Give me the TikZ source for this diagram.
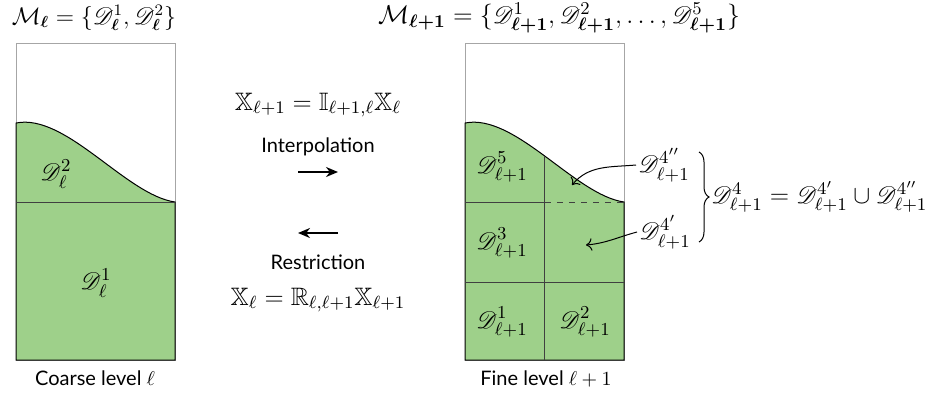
\RequirePackage{fix-cm}
\documentclass[tikz,border=0pt]{standalone}
\usepackage{fontspec}
\setmainfont{Lato}
\usepackage{amssymb}
\usepackage{mathrsfs}
\usepackage{bm}
\usetikzlibrary{positioning, arrows.meta, decorations.pathreplacing}

\definecolor{cellgreen}{RGB}{158,208,138}

\begin{document}
\begin{tikzpicture}[
        x=0.5pt, y=-0.5pt,
        frame/.style={draw=gray!70, line width=0.5pt},
        region/.style={fill=cellgreen, draw=black, line width=0.5pt},
        split/.style={draw=black!75, line width=0.5pt},
        lbl/.style={inner sep=1pt, font=\fontsize{13}{15}\selectfont},
        arrow/.style={-{Stealth[length=6pt, width=5pt]}, line width=1pt},
        pointer/.style={-{To[length=3pt]}, line width=0.5pt},
        brace/.style={decorate, decoration={brace, amplitude=5pt}, line width=0.5pt},
        opeq/.style={font=\fontsize{12.6}{15}\selectfont}
    ]
    \useasboundingbox (0,0) rectangle (936,392);

    % coarse level
    \draw[frame] (16,43) rectangle (175,360);
    \path[region] (16,360) -- (16,123) .. controls (66,113) and (126,195) .. (175,202) -- (175,360) -- cycle;
    \draw[split] (16,202) -- (175,202);

    \node[lbl] (cD2) at (56,174) {$\mathscr{D}_\ell^2$};
    \node[lbl] (cD1) at (96,283) {$\mathscr{D}_\ell^1$};

    \node (cHead) at (94,18) {\large $\mathcal{M}_{\bm{\ell}} = \{\mathscr{D}_{\bm{\ell}}^1, \mathscr{D}_{\bm{\ell}}^2\}$};
    \node (cName) at (95,378) {Coarse level $\ell$};

    % fine level
    \draw[frame] (465,43) rectangle (624,360);
    \path[region] (465,360) -- (465,123) .. controls (515,113) and (575,195) .. coordinate[pos=0.5] (fMid) (624,202) -- (624,360) -- cycle;
    \coordinate (fBot) at (465,360);
    \coordinate (fMidH) at (465,202);
    \coordinate (fLowH) at (465,282);
    \coordinate (fRight) at (624,202);
    \coordinate (fRightLow) at (624,282);
    \draw[split] (fMid) -- (fMid |- fBot);
    \draw[split] (fMidH) -- (fMid |- fMidH);
    \draw[split, dashed] (fMid |- fMidH) -- (fRight);
    \draw[split] (fLowH) -- (fRightLow);

    \node[lbl] (fD5) at (502,167) {$\mathscr{D}_{\ell+1}^5$};
    \node[lbl] (fD3) at (502,243) {$\mathscr{D}_{\ell+1}^3$};
    \node[lbl] (fD1) at (502,322) {$\mathscr{D}_{\ell+1}^1$};
    \node[lbl] (fD2) at (585,322) {$\mathscr{D}_{\ell+1}^2$};

    \node (fHead) at (559,18) {\fontsize{12.9}{15}\selectfont $\mathcal{M}_{\bm{\ell+1}} = \{\mathscr{D}_{\bm{\ell+1}}^1, \mathscr{D}_{\bm{\ell+1}}^2, \dots, \mathscr{D}_{\bm{\ell+1}}^5\}$};
    \node (fName) at (546,379) {Fine level $\ell+1$};

    % split cell 4
    \node[lbl] (fD4b) at (664,165) {$\mathscr{D}_{\ell+1}^{4''}$};
    \node[lbl] (fD4a) at (665,232) {$\mathscr{D}_{\ell+1}^{4'}$};
    \coordinate (t4b) at (572,185);
    \coordinate (t4a) at (586,245);
    \draw[pointer] (fD4b.west) to[out=185, in=50] (t4b);
    \draw[pointer] (fD4a.west) to[out=195, in=5] (t4a);
    \coordinate (bTop) at (699,152);
    \coordinate (bBot) at (699,242);
    \draw[brace] (bTop) -- (bBot);
    \node[lbl, anchor=west, font=\fontsize{12.7}{15}\selectfont] (fD4) at (709,197) {$\mathscr{D}_{\ell+1}^4 = \mathscr{D}_{\ell+1}^{4'} \cup \mathscr{D}_{\ell+1}^{4''}$};

    % transfer operators
    \node[opeq] (interpEq) at (318,105) {$\mathbb{X}_{\ell+1} = \mathbb{I}_{\ell+1,\ell}\mathbb{X}_\ell$};
    \node (interp) at (318,147) {Interpolation};
    \coordinate (iL) at (298,172);
    \coordinate (iR) at (338,172);
    \draw[arrow] (iL) -- (iR);
    \coordinate (rL) at (298,233);
    \coordinate (rR) at (338,233);
    \draw[arrow] (rR) -- (rL);
    \node (restr) at (318,262) {Restriction};
    \node[opeq] (restrEq) at (318,300) {$\mathbb{X}_\ell = \mathbb{R}_{\ell,\ell+1}\mathbb{X}_{\ell+1}$};

\end{tikzpicture}
\end{document}
